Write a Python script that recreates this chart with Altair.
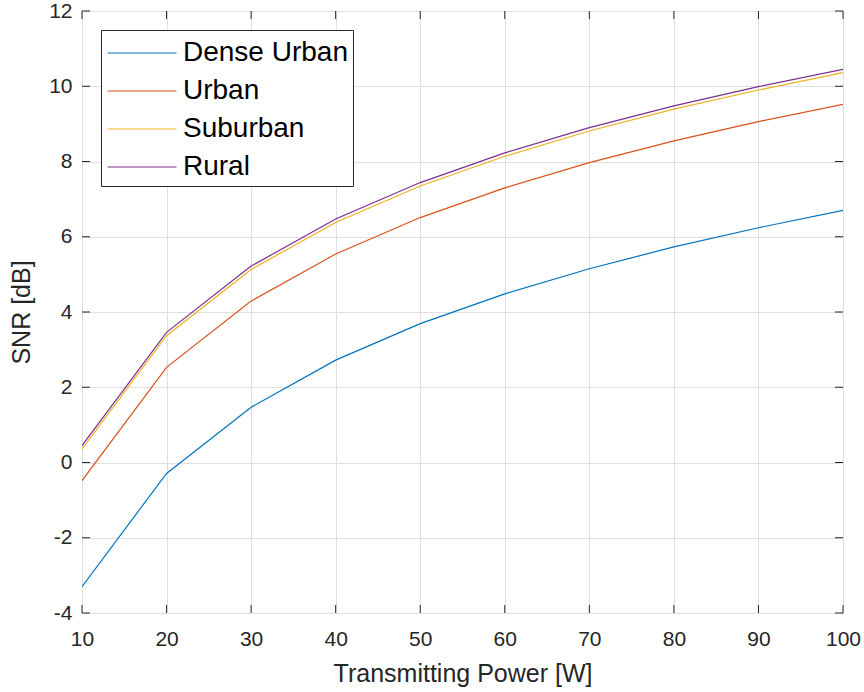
import altair as alt
import pandas as pd

power = [10, 20, 30, 40, 50, 60, 70, 80, 90, 100]
dense_urban = [-3.30, -0.29, 1.47, 2.72, 3.69, 4.48, 5.15, 5.73, 6.24, 6.70]
urban = [-0.48, 2.53, 4.29, 5.54, 6.51, 7.30, 7.97, 8.55, 9.06, 9.52]
suburban = [0.36, 3.37, 5.13, 6.38, 7.35, 8.14, 8.81, 9.39, 9.90, 10.36]
rural = [0.45, 3.46, 5.22, 6.47, 7.44, 8.23, 8.90, 9.48, 9.99, 10.45]

series_names = ["Dense Urban", "Urban", "Suburban", "Rural"]
series_colors = ["#0072BD", "#D95319", "#EDB120", "#7E2F8E"]
x_ticks = [10, 20, 30, 40, 50, 60, 70, 80, 90, 100]
y_ticks = [-4, -2, 0, 2, 4, 6, 8, 10, 12]

W, H = 761, 602
FONT = "Liberation Sans"
AX = "#262626"

rows = []
for name, vals in zip(series_names, [dense_urban, urban, suburban, rural]):
    for p, v in zip(power, vals):
        rows.append({"power": p, "snr": v, "series": name})
df = pd.DataFrame(rows)

xscale = alt.Scale(domain=[10, 100], nice=False, zero=False)
yscale = alt.Scale(domain=[-4, 12], nice=False, zero=False)

lines = alt.Chart(df).mark_line(strokeWidth=1.2, clip=True).encode(
    x=alt.X("power:Q", scale=xscale,
            axis=alt.Axis(title="Transmitting Power [W]", values=x_ticks,
                          labelExpr="toString(datum.value)",
                          tickSize=0, labelPadding=15, titlePadding=12,
                          labelFontSize=21, titleFontSize=25, labelFont=FONT, titleFont=FONT,
                          labelColor=AX, titleColor=AX, titleFontWeight="normal",
                          grid=True, gridColor="#dfdfdf", gridWidth=1,
                          domain=False, labelFlush=False)),
    y=alt.Y("snr:Q", scale=yscale,
            axis=alt.Axis(title="SNR [dB]", values=y_ticks,
                          labelExpr="toString(datum.value)",
                          tickSize=0, labelPadding=10, titlePadding=14,
                          labelFontSize=21, titleFontSize=25, labelFont=FONT, titleFont=FONT,
                          labelColor=AX, titleColor=AX, titleFontWeight="normal",
                          grid=True, gridColor="#dfdfdf", gridWidth=1,
                          domain=False, labelFlush=False)),
    color=alt.Color("series:N",
                    scale=alt.Scale(domain=series_names, range=series_colors),
                    legend=alt.Legend(title=None, orient="none", legendX=19, legendY=19,
                                      symbolType="M-2,0H2", symbolSize=1190,
                                      symbolStrokeWidth=1.2, symbolOffset=18,
                                      labelFontSize=28, labelFont=FONT, labelColor="black",
                                      labelOffset=23, rowPadding=6,
                                      padding=5, strokeColor=AX, fillColor="white",
                                      labelLimit=400,
                                      labelExpr="datum.label + '\u00a0\u00a0'")),
    order=alt.Order("power:Q"),
)

xt = pd.DataFrame({"v": x_ticks})
yt = pd.DataFrame({"v": y_ticks})
x_bottom = alt.Chart(xt).mark_rule(color=AX, strokeWidth=1).encode(
    x=alt.X("v:Q", scale=xscale), y=alt.value(H), y2=alt.value(H - 8))
x_top = alt.Chart(xt).mark_rule(color=AX, strokeWidth=1).encode(
    x=alt.X("v:Q", scale=xscale), y=alt.value(0), y2=alt.value(8))
y_left = alt.Chart(yt).mark_rule(color=AX, strokeWidth=1).encode(
    y=alt.Y("v:Q", scale=yscale), x=alt.value(0), x2=alt.value(8))
y_right = alt.Chart(yt).mark_rule(color=AX, strokeWidth=1).encode(
    y=alt.Y("v:Q", scale=yscale), x=alt.value(W), x2=alt.value(W - 8))

chart = alt.layer(lines, x_bottom, x_top, y_left, y_right).properties(
    width=W, height=H,
    autosize=alt.AutoSizeParams(type="none"),
    padding={"left": 82, "top": 11, "right": 21, "bottom": 79},
).configure_view(stroke=AX, strokeWidth=1.3).configure(background="white")

chart.save("out.html", embed_options={"renderer": "svg", "actions": False})
